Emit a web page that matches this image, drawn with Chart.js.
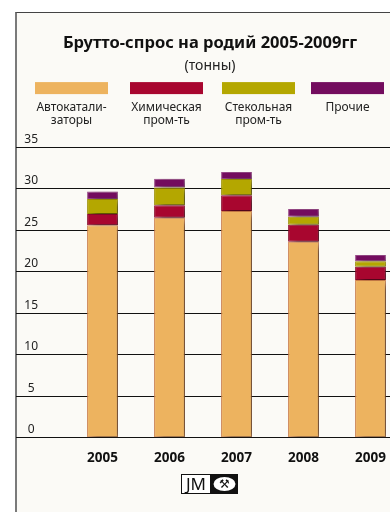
<!DOCTYPE html>
<html>
<head>
<meta charset="utf-8">
<script src="https://cdn.jsdelivr.net/npm/chart.js@4/dist/chart.umd.min.js"></script>
<style>
  html, body { margin: 0; padding: 0; background: #fff; overflow: hidden; width: 390px; height: 512px; }
  #frame { position: absolute; left: 15px; top: 12px; width: 420px; height: 520px;
           background: #fbfaf6; border-top: 1px solid #444; border-left: 2px solid #7a7a7a; }
  #myChart { position: absolute; left: 0; top: 0; }
</style>
</head>
<body>
<div id="frame"></div>
<canvas id="myChart" width="420" height="512"></canvas>
<script>
const years = ['2005', '2006', '2007', '2008', '2009']

// tonnes per segment
const autocat = [25.6, 26.5, 27.3, 23.6, 19.0]
const chemical = [1.35, 1.5, 1.9, 2.05, 1.6]
const glass = [1.8, 2.15, 1.95, 0.95, 0.65]
const other = [0.9, 1.05, 0.85, 0.95, 0.75]

const yTicks = { min: 0, max: 35, step: 5 }

const FONT = "'Noto Sans', 'DejaVu Sans', sans-serif"

const seriesNames = ['Автокатали-\nзаторы', 'Химическая\nпром-ть', 'Стекольная\nпром-ть', 'Прочие']
const seriesColors = ['#edb35f', '#a8062f', '#b4a700', '#730c5e']
const seriesBorders = ['#d0804a', '#8c0a2c', '#9e9200', '#9a4a8a']
const seriesValues = [autocat, chemical, glass, other]

// soft drop shadow behind each stacked segment
const barShadow = {
  id: 'barShadow',
  beforeDatasetDraw(chart) {
    const ctx = chart.ctx
    ctx.save()
    ctx.shadowColor = 'rgba(0,0,0,0.55)'
    ctx.shadowBlur = 7
    ctx.shadowOffsetX = 5
    ctx.shadowOffsetY = 3
  },
  afterDatasetDraw(chart) {
    chart.ctx.restore()
  }
}

// colour strips with two-line captions under the title
const stripLegend = {
  id: 'stripLegend',
  afterDraw(chart) {
    const ctx = chart.ctx
    const top = chart.chartArea.top
    const lefts = [35, 130, 222, 311]
    ctx.save()
    chart.data.datasets.forEach((ds, i) => {
      const x = lefts[i]
      ctx.fillStyle = ds.backgroundColor
      ctx.fillRect(x, top - 65, 73, 12)
      ctx.fillStyle = '#222'
      ctx.font = '12px ' + FONT
      ctx.textAlign = 'center'
      ctx.textBaseline = 'middle'
      ds.label.split('\n').forEach((line, j) => {
        ctx.fillText(line, x + 36.5, top - 40 + j * 13)
      })
    })
    ctx.restore()
  }
}

// JM logo under the year labels
const logo = {
  id: 'logo',
  afterDraw(chart) {
    const ctx = chart.ctx
    const x = 181, y = 474
    ctx.save()
    ctx.fillStyle = '#fff'
    ctx.fillRect(x, y, 30, 20)
    ctx.strokeStyle = '#111'
    ctx.lineWidth = 1
    ctx.strokeRect(x + 0.5, y + 0.5, 29, 19)
    ctx.fillStyle = '#111'
    ctx.font = '17px ' + FONT
    ctx.textAlign = 'center'
    ctx.textBaseline = 'middle'
    ctx.fillText('JM', x + 15, y + 11)
    ctx.fillRect(x + 30, y, 27, 20)
    ctx.fillStyle = '#fff'
    ctx.beginPath()
    ctx.ellipse(x + 43.5, y + 10, 11, 7, 0, 0, Math.PI * 2)
    ctx.fill()
    ctx.fillStyle = '#111'
    ctx.font = '12px DejaVu Sans'
    ctx.fillText('⚒', x + 43.5, y + 10.5)
    ctx.restore()
  }
}

const ctx = document.getElementById('myChart')

const data = {
  labels: years,
  datasets: seriesNames.map((name, i) => ({
    label: name,
    data: seriesValues[i],
    backgroundColor: seriesColors[i],
    borderColor: seriesBorders[i],
    borderWidth: 1,
    borderSkipped: false,
    categoryPercentage: 1,
    barPercentage: 0.46
  }))
}

const options = {
  responsive: false,
  animation: false,
  layout: { padding: { left: 16, right: 16, top: 0, bottom: 34 } },
  plugins: {
    legend: { display: false },
    tooltip: { enabled: false },
    title: {
      display: true,
      text: 'Брутто-спрос на родий 2005-2009гг',
      color: '#111',
      font: { family: FONT, size: 16.5, weight: 'bold' },
      padding: { top: 33, bottom: 3 }
    },
    subtitle: {
      display: true,
      text: '(тонны)',
      color: '#222',
      font: { family: FONT, size: 14 },
      padding: { top: 2, bottom: 72.5 }
    }
  },
  scales: {
    x: {
      stacked: true,
      grid: { display: false, drawTicks: false },
      border: { display: false },
      ticks: { color: '#111', padding: 12, font: { family: FONT, size: 13.5, weight: 'bold' } }
    },
    y: {
      stacked: true,
      min: yTicks.min,
      max: yTicks.max,
      border: { display: false },
      grid: { color: '#111', lineWidth: 1, drawTicks: true, tickLength: 53 },
      ticks: {
        stepSize: yTicks.step,
        color: '#222',
        crossAlign: 'center',
        padding: -22,
        labelOffset: -8,
        font: { family: FONT, size: 12 }
      },
      afterFit(scale) { scale.width = 53 }
    }
  }
}

new Chart(ctx, {
  type: 'bar',
  data: data,
  options: options,
  plugins: [barShadow, stripLegend, logo]
})
</script>
</body>
</html>
